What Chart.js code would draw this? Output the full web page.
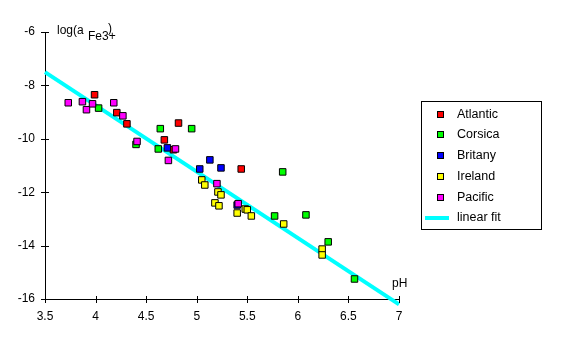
<!DOCTYPE html>
<html>
<head>
<meta charset="utf-8">
<script src="https://cdn.jsdelivr.net/npm/chart.js@4"></script>
<style>
  html, body { margin: 0; padding: 0; background: #fff; }
  #wrap { width: 569px; height: 349px; }
</style>
</head>
<body>
<div id="wrap"><canvas id="chart-fe"></canvas></div>
<script>
// pH vs log activity of Fe3+, per sampling region
const atlanticPH  = [3.99, 4.21, 4.31, 4.68, 4.77, 4.82, 5.44];
const atlanticLog = [-8.35, -9.02, -9.44, -10.04, -10.41, -9.41, -11.13];

const corsicaPH  = [4.03, 4.40, 4.62, 4.64, 4.95, 5.85, 5.77, 6.08, 6.30, 6.56];
const corsicaLog = [-8.85, -10.21, -10.38, -9.62, -9.62, -11.24, -12.89, -12.85, -13.86, -15.25];

const britanyPH  = [4.71, 5.03, 5.13, 5.24, 5.40];
const britanyLog = [-10.34, -11.13, -10.79, -11.09, -12.48];

const irelandPH  = [5.05, 5.08, 5.21, 5.24, 5.18, 5.22, 5.40, 5.48, 5.50, 5.54, 5.86, 6.24, 6.24];
const irelandLog = [-11.54, -11.73, -11.99, -12.10, -12.40, -12.51, -12.78, -12.63, -12.66, -12.89, -13.19, -14.13, -14.35];

const pacificPH  = [3.73, 3.87, 3.91, 3.97, 4.18, 4.27, 4.41, 4.72, 4.79, 5.20, 5.41];
const pacificLog = [-8.65, -8.61, -8.91, -8.69, -8.65, -9.14, -10.10, -10.81, -10.38, -11.68, -12.43];

const fitPH  = [3.5, 7];
const fitLog = [-7.5, -16.2];

const xTicks = [3.5, 4, 4.5, 5, 5.5, 6, 6.5, 7];
const yTicks = [-6, -8, -10, -12, -14, -16];

const FAMILY = '"Liberation Sans", Arial, sans-serif';

function pts(xs, ys) {
    return xs.map((x, i) => ({ x: x, y: ys[i] }));
}

function serie(label, xs, ys, color, order) {
    return {
        type: 'scatter',
        label: label,
        data: pts(xs, ys),
        backgroundColor: color,
        borderColor: '#000',
        borderWidth: 1,
        pointStyle: 'rect',
        pointRadius: 4.6,
        order: order,
    };
}

const datasets = [
    serie('Atlantic', atlanticPH, atlanticLog, '#ff0000', 4),
    serie('Corsica', corsicaPH, corsicaLog, '#00ff00', 3),
    serie('Britany', britanyPH, britanyLog, '#0000ff', 2),
    serie('Ireland', irelandPH, irelandLog, '#ffff00', 1),
    serie('Pacific', pacificPH, pacificLog, '#ff00ff', 0),
    {
        type: 'line',
        label: 'linear fit',
        data: pts(fitPH, fitLog),
        borderColor: '#00ffff',
        backgroundColor: '#00ffff',
        borderWidth: 4,
        pointRadius: 0,
        fill: false,
        clip: false,
        order: 10,
    },
];

// crossing tick marks, axis titles and the boxed legend
const decorations = {
    id: 'decorations',
    afterDraw(chart) {
        const ctx = chart.ctx;
        const xs = chart.scales.x, ys = chart.scales.y;
        const area = chart.chartArea;
        ctx.save();
        ctx.strokeStyle = '#000';
        ctx.lineWidth = 1;
        ctx.beginPath();
        xTicks.forEach(v => {
            const px = Math.round(xs.getPixelForValue(v)) + 0.5;
            ctx.moveTo(px, Math.round(area.bottom) - 3);
            ctx.lineTo(px, Math.round(area.bottom) + 4);
        });
        yTicks.forEach(v => {
            const py = Math.round(ys.getPixelForValue(v)) + 0.5;
            ctx.moveTo(Math.round(area.left) - 4, py);
            ctx.lineTo(Math.round(area.left) + 4, py);
        });
        ctx.stroke();

        ctx.fillStyle = '#000';
        ctx.font = '12px ' + FAMILY;
        ctx.textBaseline = 'middle';
        ctx.textAlign = 'left';
        ctx.fillText('log(a', 57, 31);
        ctx.fillText('Fe3+', 88, 37);
        ctx.fillText(')', 108, 29);
        ctx.fillText('pH', 392, 284);

        // legend
        ctx.strokeRect(421.5, 101.5, 120, 128);
        ctx.font = '12.5px ' + FAMILY;
        const rows = [115, 135, 156, 177, 198, 218];
        chart.data.datasets.forEach((ds, i) => {
            const y = rows[i];
            if (ds.type === 'line') {
                ctx.strokeStyle = ds.borderColor;
                ctx.lineWidth = 4;
                ctx.beginPath();
                ctx.moveTo(425, y);
                ctx.lineTo(449, y);
                ctx.stroke();
            } else {
                ctx.fillStyle = ds.backgroundColor;
                ctx.fillRect(437.5, y - 3.5, 6, 6);
                ctx.strokeStyle = '#000';
                ctx.lineWidth = 1;
                ctx.strokeRect(437.5, y - 3.5, 6, 6);
            }
            ctx.fillStyle = '#000';
            ctx.fillText(ds.label, 457, y);
        });
        ctx.restore();
    }
};

const ctx = document.getElementById('chart-fe').getContext('2d');

new Chart(ctx, {
    data: { datasets: datasets },
    options: {
        responsive: true,
        maintainAspectRatio: false,
        animation: false,
        layout: { padding: { left: 0, top: 32, right: 170, bottom: 0 } },
        plugins: {
            legend: { display: false },
            tooltip: { enabled: false },
        },
        scales: {
            x: {
                type: 'linear',
                min: 3.5,
                max: 7,
                afterFit: s => { s.height = 50; },
                afterBuildTicks: s => { s.ticks = xTicks.map(v => ({ value: v })); },
                grid: { display: false, drawTicks: false },
                border: { display: true, color: '#000', width: 1 },
                ticks: {
                    padding: 10,
                    color: '#000',
                    font: { family: FAMILY, size: 12 },
                    maxRotation: 0,
                    callback: v => String(v),
                },
            },
            y: {
                type: 'linear',
                min: -16,
                max: -6,
                afterFit: s => { s.width = 45; },
                afterBuildTicks: s => { s.ticks = yTicks.map(v => ({ value: v })); },
                grid: { display: false, drawTicks: false },
                border: { display: true, color: '#000', width: 1 },
                ticks: {
                    padding: 10,
                    color: '#000',
                    font: { family: FAMILY, size: 12 },
                    callback: v => String(v),
                },
            },
        },
    },
    plugins: [decorations],
});
</script>
</body>
</html>
